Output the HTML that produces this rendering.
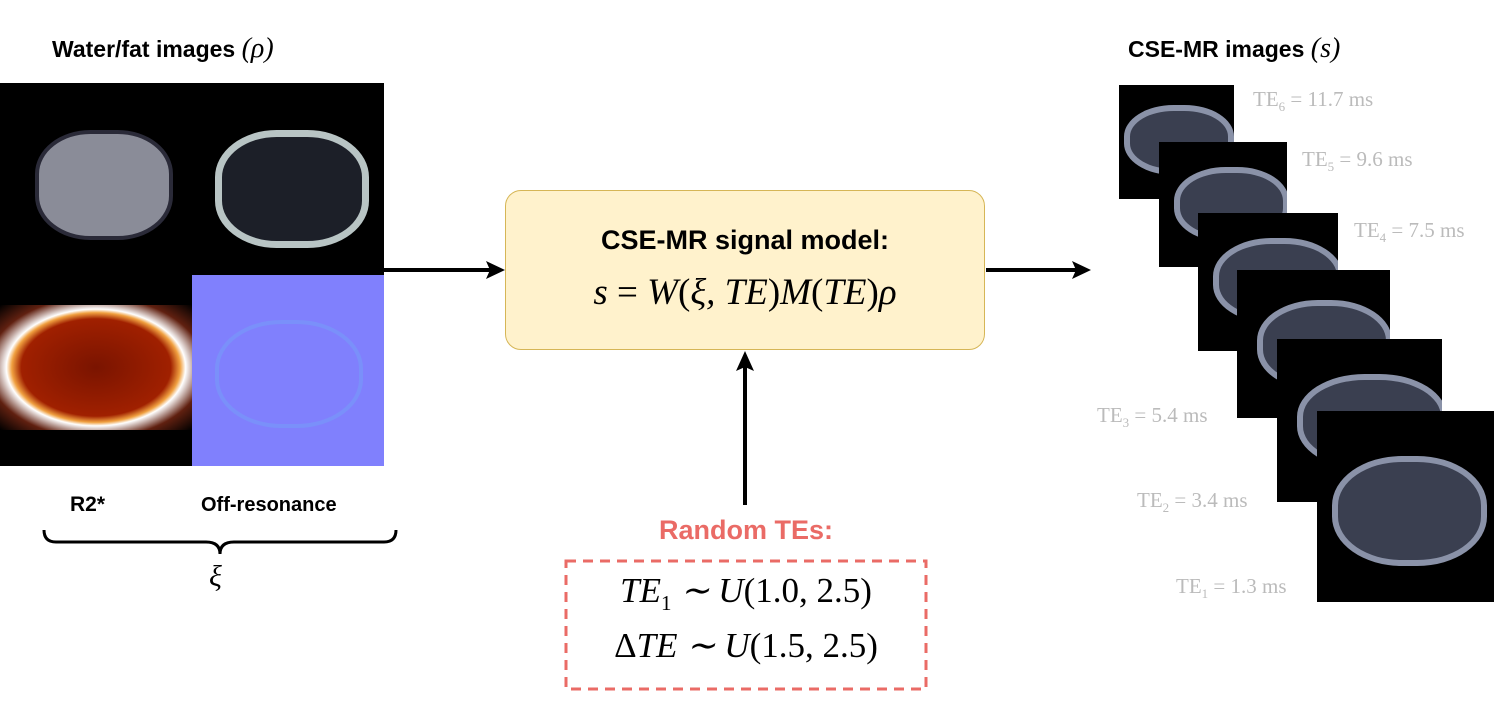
<!DOCTYPE html>
<html><head><meta charset="utf-8"><style>
body{margin:0;width:1495px;height:703px;background:#fff;position:relative;overflow:hidden;font-family:"Liberation Sans",sans-serif}
.a{position:absolute}
.m{font-family:"Liberation Serif",serif;font-style:italic}
.te{position:absolute;font-family:"Liberation Serif",serif;color:#bbb;font-size:21px;white-space:nowrap}
.f{position:absolute;background:#000;overflow:hidden}
.f i{position:absolute;border-radius:45%;border:6px solid #8a92a8;background:#3a3f50;box-sizing:border-box}
</style></head><body>
<div class="a" style="left:52px;top:33px;font-size:23px;font-weight:bold">Water/fat images <span class="m" style="font-weight:normal;font-size:28px">(ρ)</span></div>
<div class="a" style="left:1128px;top:33px;font-size:23px;font-weight:bold">CSE-MR images <span class="m" style="font-weight:normal;font-size:28px">(s)</span></div>

<div class="a" style="left:0;top:83px;width:384px;height:192px;background:#000"></div>
<div class="a" style="left:35px;top:130px;width:130px;height:102px;border-radius:40%;border:4px solid #2a2a38;background:#8a8c98"></div>
<div class="a" style="left:215px;top:130px;width:140px;height:104px;border-radius:40%;border:7px solid #b8c4c4;background:#1c1f28"></div>
<div class="a" style="left:0;top:275px;width:192px;height:191px;background:#000"></div>
<div class="a" style="left:0;top:305px;width:192px;height:125px;background:radial-gradient(ellipse at center,#7a1400 0%,#a02000 55%,#f0a040 62%,#fff 66%,#602010 80%,#000 100%)"></div>
<div class="a" style="left:192px;top:275px;width:192px;height:191px;background:#8080fd"></div>
<div class="a" style="left:215px;top:320px;width:140px;height:100px;border-radius:45%;border:4px solid #7a90fa"></div>

<div class="a" style="left:70px;top:493px;font-size:21px;font-weight:bold">R2*</div>
<div class="a" style="left:201px;top:494px;font-size:20px;font-weight:bold">Off-resonance</div>
<svg class="a" style="left:0;top:0" width="1495" height="703">
<path d="M44 530 q0 12 12 12 h150 q14 0 14 12 q0-12 14-12 h150 q12 0 12-12" fill="none" stroke="#000" stroke-width="3"/>
<line x1="384" y1="270" x2="490" y2="270" stroke="#000" stroke-width="4"/>
<polygon points="505,270 486,261 490,270 486,279" fill="#000"/>
<line x1="986" y1="270" x2="1076" y2="270" stroke="#000" stroke-width="4"/>
<polygon points="1091,270 1072,261 1076,270 1072,279" fill="#000"/>
<line x1="745" y1="505" x2="745" y2="365" stroke="#000" stroke-width="4"/>
<polygon points="745,351 736,371 745,367 754,371" fill="#000"/>
<rect x="566" y="561" width="360" height="128" fill="none" stroke="#ea6b66" stroke-width="3" stroke-dasharray="10,7"/>
</svg>
<div class="a m" style="left:209px;top:560px;font-size:30px">ξ</div>

<div class="a" style="left:505px;top:190px;width:480px;height:160px;box-sizing:border-box;background:#fff2cc;border:1px solid #d6b656;border-radius:16px"></div>
<div class="a" style="left:505px;top:225px;width:480px;text-align:center;font-size:27px;font-weight:bold">CSE-MR signal model:</div>
<div class="a m" style="left:505px;top:271px;width:480px;text-align:center;font-size:37px">s <span style="font-style:normal">=</span> W<span style="font-style:normal">(</span>ξ, TE<span style="font-style:normal">)</span>M<span style="font-style:normal">(</span>TE<span style="font-style:normal">)</span>ρ</div>

<div class="a" style="left:566px;top:515px;width:360px;text-align:center;font-size:27px;font-weight:bold;color:#ea6b66">Random TEs:</div>
<div class="a m" style="left:566px;top:571px;width:360px;text-align:center;font-size:35px">TE<sub style="font-style:normal;font-size:21px">1</sub> ∼ U<span style="font-style:normal">(1.0, 2.5)</span></div>
<div class="a m" style="left:566px;top:626px;width:360px;text-align:center;font-size:35px"><span style="font-style:normal">Δ</span>TE ∼ U<span style="font-style:normal">(1.5, 2.5)</span></div>

<div class="f" style="left:1119px;top:85px;width:115px;height:114px"><i style="left:5px;top:20px;width:110px;height:70px"></i></div>
<div class="f" style="left:1159px;top:142px;width:128px;height:125px"><i style="left:15px;top:25px;width:115px;height:75px"></i></div>
<div class="f" style="left:1198px;top:213px;width:140px;height:138px"><i style="left:15px;top:25px;width:130px;height:85px"></i></div>
<div class="f" style="left:1237px;top:270px;width:153px;height:148px"><i style="left:20px;top:30px;width:135px;height:90px"></i></div>
<div class="f" style="left:1277px;top:339px;width:165px;height:163px"><i style="left:20px;top:35px;width:150px;height:95px"></i></div>
<div class="f" style="left:1317px;top:411px;width:177px;height:191px"><i style="left:15px;top:45px;width:155px;height:110px"></i></div>

<div class="te" style="left:1253px;top:87px">TE<sub style="font-size:13px">6</sub> = 11.7 ms</div>
<div class="te" style="left:1302px;top:147px">TE<sub style="font-size:13px">5</sub> = 9.6 ms</div>
<div class="te" style="left:1354px;top:218px">TE<sub style="font-size:13px">4</sub> = 7.5 ms</div>
<div class="te" style="left:1097px;top:403px">TE<sub style="font-size:13px">3</sub> = 5.4 ms</div>
<div class="te" style="left:1137px;top:488px">TE<sub style="font-size:13px">2</sub> = 3.4 ms</div>
<div class="te" style="left:1176px;top:574px">TE<sub style="font-size:13px">1</sub> = 1.3 ms</div>
</body></html>
